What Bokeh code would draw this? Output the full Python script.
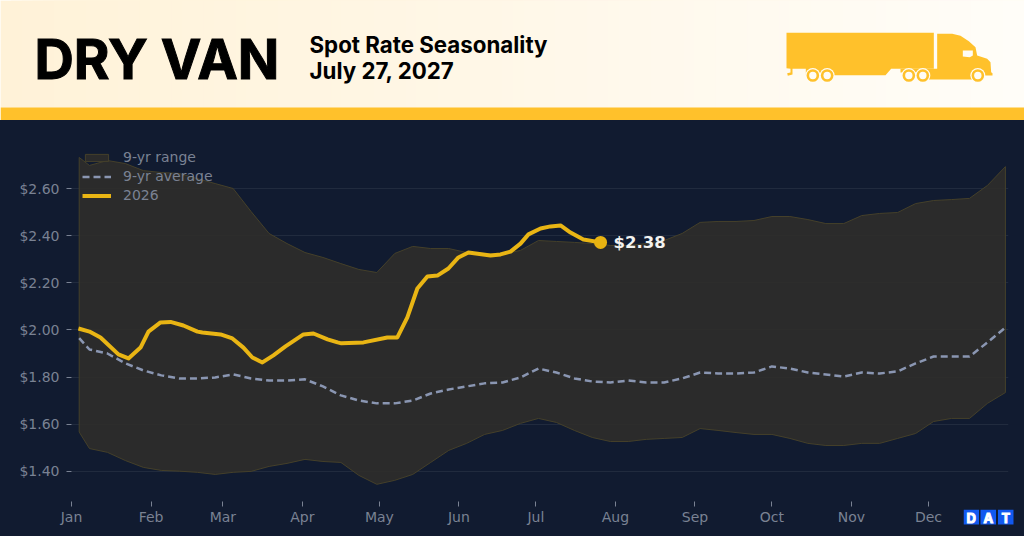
from bokeh.embed import file_html
from bokeh.resources import INLINE
from bokeh.plotting import figure
from bokeh.layouts import column
from bokeh.models import FixedTicker, Legend, LegendItem, Range1d
from bokeh.core.properties import value

# ---------- data ----------
MONTH_DAYS = [0, 31, 59, 90, 120, 151, 181, 212, 243, 273, 304, 334]
MONTH_LABELS = ["Jan", "Feb", "Mar", "Apr", "May", "Jun", "Jul", "Aug", "Sep", "Oct", "Nov", "Dec"]
PRICE_TICKS = [1.40, 1.60, 1.80, 2.00, 2.20, 2.40, 2.60]

RANGE_DAYS = [3] + [7 * i for i in range(1, 53)]
RANGE_HIGH = [2.733, 2.699, 2.720, 2.707, 2.677, 2.669, 2.665, 2.643, 2.622, 2.601,
              2.503, 2.410, 2.367, 2.329, 2.308, 2.282, 2.257, 2.244, 2.325, 2.355,
              2.346, 2.346, 2.329, 2.325, 2.321, 2.338, 2.380, 2.376, 2.372, 2.367,
              2.359, 2.359, 2.367, 2.380, 2.410, 2.457, 2.461, 2.461, 2.465, 2.482,
              2.482, 2.469, 2.452, 2.452, 2.486, 2.495, 2.499, 2.537, 2.550, 2.554,
              2.559, 2.614, 2.694]
RANGE_LOW = [1.566, 1.496, 1.480, 1.445, 1.416, 1.403, 1.400, 1.395, 1.386, 1.395,
             1.399, 1.420, 1.433, 1.450, 1.441, 1.437, 1.382, 1.344, 1.361, 1.386,
             1.437, 1.488, 1.518, 1.556, 1.573, 1.603, 1.624, 1.607, 1.573, 1.543,
             1.526, 1.526, 1.535, 1.539, 1.543, 1.581, 1.573, 1.564, 1.556, 1.556,
             1.539, 1.518, 1.509, 1.509, 1.518, 1.518, 1.539, 1.560, 1.611, 1.624,
             1.624, 1.688, 1.734]
AVERAGE = [1.965, 1.917, 1.900, 1.858, 1.828, 1.807, 1.794, 1.794, 1.798, 1.811,
           1.794, 1.785, 1.785, 1.790, 1.760, 1.722, 1.700, 1.688, 1.688, 1.700,
           1.730, 1.747, 1.760, 1.773, 1.777, 1.798, 1.836, 1.819, 1.794, 1.781,
           1.777, 1.785, 1.777, 1.777, 1.794, 1.819, 1.815, 1.815, 1.819, 1.845,
           1.836, 1.819, 1.811, 1.802, 1.819, 1.815, 1.824, 1.858, 1.887, 1.887,
           1.887, 1.947, 2.010]
CUR_DAYS = [2.7, 7.0, 11.3, 18.3, 22.2, 26.9, 30.0, 34.7, 38.6, 43.6, 49.1, 51.0, 58.1,
            62.7, 67.0, 70.5, 74.4, 78.7, 83.4, 90.4, 94.3, 99.8, 103.7, 105.2, 113.8,
            123.1, 127.0, 130.9, 134.8, 138.7, 142.6, 146.9, 150.8, 154.7, 163.3, 167.2,
            171.1, 175.0, 178.1, 182.8, 186.7, 190.6, 194.5, 199.5, 206.2]
CUR_RATE = [2.006, 1.993, 1.968, 1.896, 1.879, 1.925, 1.993, 2.032, 2.034, 2.019, 1.993,
            1.989, 1.981, 1.964, 1.925, 1.883, 1.862, 1.892, 1.930, 1.981, 1.985, 1.960,
            1.947, 1.943, 1.947, 1.968, 1.968, 2.053, 2.176, 2.227, 2.231, 2.261, 2.308,
            2.329, 2.316, 2.321, 2.333, 2.367, 2.406, 2.431, 2.440, 2.444, 2.414, 2.384, 2.372]
CUR_LABEL = "$2.38"

BG = "#111B30"
AXIS = "#7A8293"
YEL = "#FFC12B"

# ---------- header ----------
W = 1024
hdr = figure(width=W, height=120, output_backend="svg", toolbar_location=None,
             x_range=Range1d(0, W), y_range=Range1d(120, 0), min_border=0,
             x_axis_location=None, y_axis_location=None)
hdr.frame_align = False
hdr.grid.visible = False
hdr.outline_line_color = None
hdr.background_fill_color = None
hdr.border_fill_color = None
hdr.styles = {"background-color": "#FFFDF8"}

steps = 96
c0, c1 = (255, 242, 216), (255, 253, 248)
lefts, cols = [], []
for i in range(steps):
    t = i / (steps - 1)
    lefts.append(W * i / steps)
    cols.append("#%02X%02X%02X" % tuple(round(a + (b - a) * t) for a, b in zip(c0, c1)))
hdr.quad(left=lefts, right=[W] * steps, top=[0] * steps, bottom=[107] * steps,
         fill_color=cols, line_color=None)
hdr.quad(left=[0], right=[W], top=[107], bottom=[120], fill_color=YEL, line_color=None)

hdr.text(x=[34], y=[58], text=["DRY VAN"], text_font=value("Inter"), text_font_style="bold",
         text_font_size="54.5px", text_color="#000000", text_baseline="middle",
         outline_color="#000000")
hdr.text(x=[309], y=[44], text=["Spot Rate Seasonality"], text_font=value("Inter"),
         text_font_style="bold", text_font_size="22.3px", text_color="#000000", text_baseline="middle")
hdr.text(x=[309], y=[70], text=["July 27, 2027"], text_font=value("Inter"),
         text_font_style="bold", text_font_size="22.3px", text_color="#000000", text_baseline="middle")


def tx(z):
    return [760 + v / 3 for v in z]


def ty(z):
    return [v / 3 for v in z]


trailer_x = [78, 520, 520, 392, 375, 136, 136, 96, 96, 82, 80, 90, 90, 78]
trailer_y = [97, 97, 205, 205, 224, 224, 205, 205, 222, 226, 218, 216, 205, 203]
cab_x = [530, 575, 600, 625, 645, 650, 680, 690, 692, 696, 696, 640, 636, 505, 505, 420, 420, 530]
cab_y = [100, 100, 106, 122, 140, 165, 175, 185, 215, 218, 225, 225, 237, 237, 216, 216, 205, 205]
win_x = [607, 637, 637, 628, 607]
win_y = [150, 150, 165, 170, 168]
wheel_x = [157, 200, 445, 487, 652]
wheel_y = [225] * 5
hdr.patch(tx(trailer_x), ty(trailer_y), fill_color=YEL, line_color=None)
hdr.patch(tx(cab_x), ty(cab_y), fill_color=YEL, line_color=None)
hdr.patch(tx(win_x), ty(win_y), fill_color="#FFFCF5", line_color=None)
hdr.scatter(tx(wheel_x), ty(wheel_y), size=15, fill_color="#FFFCF5", line_color=None)
hdr.scatter(tx(wheel_x), ty(wheel_y), size=12.6, fill_color=YEL, line_color=None)
hdr.scatter(tx(wheel_x), ty(wheel_y), size=7.4, fill_color="#FFFCF5", line_color=None)

# ---------- chart ----------
p = figure(width=W, height=416, output_backend="svg", toolbar_location=None,
           x_range=Range1d(0, 365.2), y_range=Range1d(1.271, 2.805),
           min_border_left=71, min_border_right=16, min_border_top=20, min_border_bottom=35)
p.frame_align = False
p.background_fill_color = None
p.border_fill_color = None
p.styles = {"background-color": BG}
p.outline_line_color = None
p.xgrid.visible = False
p.ygrid.grid_line_color = "#FFFFFF"
p.ygrid.grid_line_alpha = 0.07
p.ygrid.grid_line_width = 1

p.yaxis.ticker = FixedTicker(ticks=PRICE_TICKS)
p.yaxis.major_label_overrides = {v: "$%.2f" % v for v in PRICE_TICKS}
p.xaxis.ticker = FixedTicker(ticks=MONTH_DAYS)
p.xaxis.major_label_overrides = dict(zip(MONTH_DAYS, MONTH_LABELS))
for ax in (p.xaxis[0], p.yaxis[0]):
    ax.axis_line_color = None
    ax.major_tick_line_color = AXIS
    ax.major_tick_in = 0
    ax.major_tick_out = 5
    ax.minor_tick_line_color = None
    ax.major_label_text_color = AXIS
    ax.major_label_text_font = "DejaVu Sans"
    ax.major_label_text_font_size = "14px"
p.xaxis.major_label_standoff = 2
p.yaxis.major_label_standoff = 7

rng = p.patch(RANGE_DAYS + RANGE_DAYS[::-1], RANGE_HIGH + RANGE_LOW[::-1],
              fill_color="#2F2E2A", fill_alpha=0.88, line_color="#45402A", line_width=1)
avg = p.line(RANGE_DAYS, AVERAGE, line_color="#8A96B2", line_width=2.5, line_dash="7 4")
cur = p.line(CUR_DAYS, CUR_RATE, line_color="#E9B514", line_width=4, line_join="round")
p.scatter(CUR_DAYS[-1:], CUR_RATE[-1:], size=13, fill_color="#E8B311", line_color=None)
p.text(CUR_DAYS[-1:], CUR_RATE[-1:], text=[CUR_LABEL], x_offset=13, text_baseline="middle",
       text_font=value("DejaVu Sans"), text_font_style="bold", text_font_size="16.5px",
       text_color="#F2F2F0")

legend = Legend(items=[LegendItem(label="9-yr range", renderers=[rng]),
                       LegendItem(label="9-yr average", renderers=[avg]),
                       LegendItem(label="2026", renderers=[cur])],
                location=(11, 298), orientation="vertical", background_fill_alpha=0,
                border_line_color=None, padding=0, margin=0, glyph_width=29, glyph_height=9,
                label_standoff=12, spacing=3, label_height=15,
                label_text_color=AXIS, label_text_font="DejaVu Sans", label_text_font_size="14px")
p.add_layout(legend, "center")

# ---------- DAT logo ----------
logo = figure(width=51, height=16, output_backend="svg", toolbar_location=None,
              x_range=Range1d(0, 51), y_range=Range1d(16, 0), min_border=0,
              x_axis_location=None, y_axis_location=None)
logo.frame_align = False
logo.grid.visible = False
logo.outline_line_color = None
logo.background_fill_color = None
logo.border_fill_color = None
logo.styles = {"position": "absolute", "left": "963px", "top": "509px", "background-color": BG}
logo_left = [0, 17, 34.5]
logo.quad(left=logo_left, right=[v + 15.5 for v in logo_left], top=[0] * 3, bottom=[15] * 3,
          fill_color="#1259F0", line_color=None)
logo.text(x=[v + 7.75 for v in logo_left], y=[8] * 3, text=list("DAT"), text_align="center",
          text_baseline="middle", text_color="#FFFFFF", text_font=value("Inter"),
          text_font_style="bold", text_font_size="13px", outline_color="#FFFFFF")

page = column(hdr, p, logo, spacing=0)
page.styles = {"position": "absolute", "left": "0px", "top": "0px"}
open("out.html", "w").write(file_html(page, INLINE))
